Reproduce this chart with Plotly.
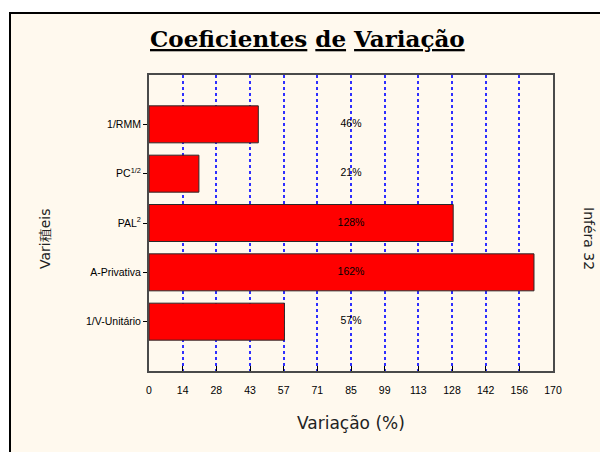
import plotly.graph_objects as go

# data
categories = ["1/RMM", "PC<sup>1/2</sup>", "PAL<sup>2</sup>", "A-Privativa", "1/V-Unitário"]
variacao = [46, 21, 128, 162, 57]
x_max = 170
tick_text = ["0", "14", "28", "43", "57", "71", "85", "99", "113", "128", "142", "156", "170"]

W, H = 600, 452
L, R, T, B = 149, 47, 75, 81
plot_w = W - L - R
plot_h = H - T - B


def px_x(px):
    # pixel x -> paper fraction of the plot area
    return (px - L) / plot_w


def px_y(py):
    return (H - B - py) / plot_h


tick_vals = [x_max * i / (len(tick_text) - 1) for i in range(len(tick_text))]
small_font = dict(family="Arial", size=10.5, color="black")

fig = go.Figure()
fig.add_trace(
    go.Bar(
        x=variacao,
        y=categories,
        orientation="h",
        width=0.75,
        marker=dict(color="#FF0000", line=dict(color="#2a2a2a", width=1)),
        hoverinfo="x+y",
    )
)
# value labels sit in the middle of the axis, not on the bars
fig.add_trace(
    go.Scatter(
        x=[x_max / 2] * len(variacao),
        y=categories,
        mode="text",
        text=[f"{v}%" for v in variacao],
        textfont=small_font,
        hoverinfo="skip",
    )
)

fig.update_layout(
    width=W,
    height=H,
    margin=dict(l=L, r=R, t=T, b=B, pad=0),
    paper_bgcolor="white",
    plot_bgcolor="white",
    showlegend=False,
    xaxis=dict(
        range=[0, x_max],
        tickvals=tick_vals,
        ticktext=tick_text,
        ticks="inside",
        ticklen=5,
        tickcolor="black",
        tickfont=small_font,
        ticklabelstandoff=8,
        showgrid=True,
        gridcolor="#2f2fff",
        gridwidth=1.5,
        griddash="3px,3px",
        zeroline=False,
        showline=True,
        linecolor="#4a4a4a",
        linewidth=2,
        mirror=True,
    ),
    yaxis=dict(
        range=[len(categories), -1],
        ticks="outside",
        ticklen=4,
        tickcolor="black",
        tickfont=small_font,
        showgrid=False,
        zeroline=False,
        showline=True,
        linecolor="#4a4a4a",
        linewidth=2,
        mirror=True,
    ),
    shapes=[
        # cream frame with black border behind the whole chart
        dict(
            type="rect",
            xref="paper",
            yref="paper",
            x0=px_x(10),
            x1=px_x(W + 10),
            y0=px_y(H + 10),
            y1=px_y(13),
            fillcolor="#FFF9EE",
            line=dict(color="black", width=2),
            layer="below",
        )
    ],
)

labels = [
    ("<b><u>Coeficientes</u> <u>de</u> <u>Variação</u></b>", 307, 38, 0,
     dict(family="DejaVu Serif", size=23, color="black")),
    ("Variação (%)", 351, 423, 0, dict(family="DejaVu Sans", size=17, color="#222")),
    ("Vari稙eis", 45, 239, -90, dict(family="DejaVu Sans", size=14, color="#222")),
    ("Inféra 32", 589, 238, 90, dict(family="DejaVu Sans", size=14, color="#222")),
]
for text, x, y, angle, font in labels:
    fig.add_annotation(
        text=text,
        xref="paper",
        yref="paper",
        x=px_x(x),
        y=px_y(y),
        xanchor="center",
        yanchor="middle",
        textangle=angle,
        showarrow=False,
        font=font,
    )

# drop the default 8px body margin so the figure fills the window exactly
fig.write_html(
    "out.html",
    config={"displayModeBar": False},
    post_script="document.body.style.margin='0px';",
)
